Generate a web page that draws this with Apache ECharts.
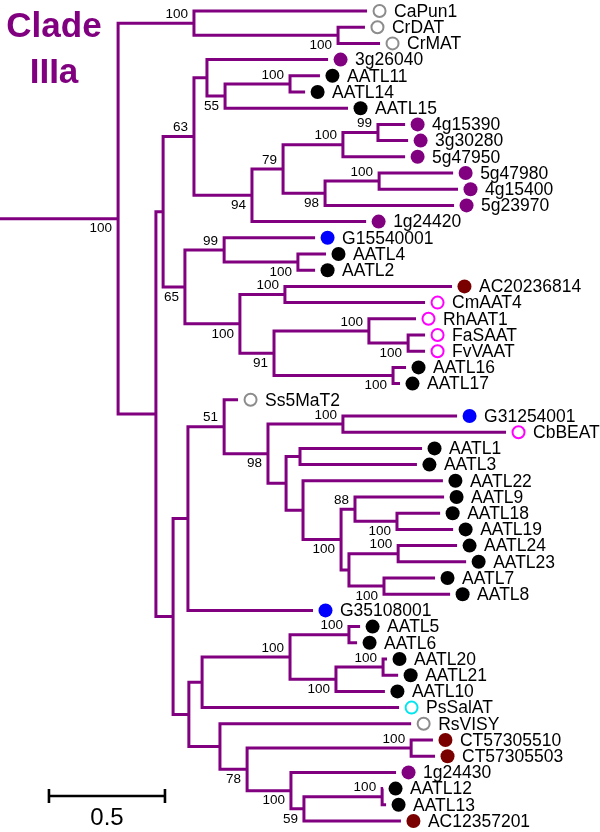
<!DOCTYPE html>
<html>
<head>
<meta charset="utf-8">
<script src="https://cdn.jsdelivr.net/npm/echarts@6/dist/echarts.min.js"></script>
<style>
html, body { margin: 0; padding: 0; background: #fff; }
#main { width: 600px; height: 832px; }
</style>
</head>
<body>
<div id="main"></div>
<script>
// leaves, top to bottom
const leafNames = ['CaPun1', 'CrDAT', 'CrMAT', '3g26040', 'AATL11', 'AATL14', 'AATL15', '4g15390', '3g30280', '5g47950',
  '5g47980', '4g15400', '5g23970', '1g24420', 'G15540001', 'AATL4', 'AATL2', 'AC20236814', 'CmAAT4', 'RhAAT1',
  'FaSAAT', 'FvVAAT', 'AATL16', 'AATL17', 'Ss5MaT2', 'G31254001', 'CbBEAT', 'AATL1', 'AATL3', 'AATL22',
  'AATL9', 'AATL18', 'AATL19', 'AATL24', 'AATL23', 'AATL7', 'AATL8', 'G35108001', 'AATL5', 'AATL6',
  'AATL20', 'AATL21', 'AATL10', 'PsSalAT', 'RsVISY', 'CT57305510', 'CT57305503', '1g24430', 'AATL12', 'AATL13',
  'AC12357201'];
// distance of each tip from the left end of the root branch
const leafTips = [1.582, 1.573, 1.638, 1.414, 1.379, 1.315, 1.500, 1.746, 1.759, 1.746,
  1.953, 1.974, 1.957, 1.578, 1.358, 1.405, 1.358, 1.948, 1.832, 1.793,
  1.832, 1.832, 1.750, 1.724, 1.026, 1.970, 2.181, 1.819, 1.797, 1.909,
  1.914, 1.897, 1.953, 1.970, 2.009, 1.875, 1.940, 1.349, 1.552, 1.539,
  1.668, 1.716, 1.659, 1.720, 1.772, 1.866, 1.875, 1.707, 1.651, 1.664,
  1.728];
const leafKinds = ['gray', 'gray', 'gray', 'purple', 'black', 'black', 'black', 'purple', 'purple', 'purple',
  'purple', 'purple', 'purple', 'purple', 'blue', 'black', 'black', 'red', 'magenta', 'magenta',
  'magenta', 'magenta', 'black', 'black', 'gray', 'blue', 'magenta', 'black', 'black', 'black',
  'black', 'black', 'black', 'black', 'black', 'black', 'black', 'blue', 'black', 'black',
  'black', 'black', 'black', 'cyan', 'gray', 'red', 'red', 'purple', 'black', 'black',
  'red'];
// clades: first leaf, last leaf, node depth, bootstrap (null = not shown)
const clades = [
  [0, 50, 0.509, 100], [0, 2, 0.836, 100], [1, 2, 1.457, 100],
  [3, 50, 0.672, null], [3, 23, 0.703, null], [3, 13, 0.836, 63],
  [3, 6, 0.892, null], [4, 6, 0.970, 55], [4, 5, 1.250, 100],
  [7, 13, 1.086, 94], [7, 12, 1.220, 79], [7, 9, 1.478, 100], [7, 8, 1.629, 99],
  [10, 12, 1.401, 98], [10, 11, 1.634, 100],
  [14, 23, 0.797, 65], [14, 16, 0.966, 99], [15, 16, 1.284, 100],
  [17, 23, 1.034, 100], [17, 18, 1.228, 100], [19, 23, 1.181, 91],
  [19, 21, 1.590, 100], [20, 21, 1.759, 100], [22, 23, 1.694, 100],
  [24, 50, 0.746, null], [24, 37, 0.810, null], [24, 36, 0.966, 51],
  [25, 36, 1.155, 98], [25, 26, 1.478, 100], [27, 36, 1.233, null],
  [27, 28, 1.293, null], [29, 36, 1.306, null], [30, 36, 1.470, 100],
  [30, 32, 1.530, 88], [31, 32, 1.711, 100], [33, 36, 1.504, null],
  [33, 34, 1.716, 100], [35, 36, 1.655, 100],
  [38, 50, 0.814, null], [38, 43, 0.871, null], [38, 42, 1.250, 100],
  [38, 39, 1.504, 100], [40, 42, 1.448, 100], [40, 41, 1.651, 100],
  [44, 50, 0.948, null], [45, 50, 1.065, 78], [45, 46, 1.772, 100],
  [47, 50, 1.254, 100], [48, 50, 1.310, 59], [48, 49, 1.647, 100]
];
const scaleBarLength = 0.5;

const PURPLE = '#800080';
const FONT = '"Liberation Sans", Arial, Helvetica, sans-serif';
const markerStyle = {
  gray: { fill: '#fff', stroke: '#8c8c8c', open: true },
  magenta: { fill: '#fff', stroke: '#ff00ff', open: true },
  cyan: { fill: '#fff', stroke: '#00e5ee', open: true },
  purple: { fill: '#800080' },
  black: { fill: '#000' },
  blue: { fill: '#0000ff' },
  red: { fill: '#7a0000' }
};

// build the tree from the leaf ranges
const nodes = [];
leafNames.forEach((n, i) => nodes.push({ from: i, to: i, x: leafTips[i], leaf: true, children: [] }));
clades.forEach(c => nodes.push({ from: c[0], to: c[1], x: c[2], support: c[3], leaf: false, children: [] }));
nodes.forEach(n => {
  let best = null;
  nodes.forEach(m => {
    if (m === n || m.leaf) return;
    if (m.from <= n.from && m.to >= n.to && (m.to - m.from) > (n.to - n.from)) {
      if (!best || (m.to - m.from) < (best.to - best.from)) best = m;
    }
  });
  n.parent = best;
  if (best) best.children.push(n);
});
nodes.forEach(n => n.children.sort((a, b) => a.from - b.from));
const root = nodes.find(n => !n.parent && !n.leaf);
function setY(n) {
  if (n.leaf) { n.y = n.from; return n.y; }
  n.children.forEach(setY);
  n.y = (n.children[0].y + n.children[n.children.length - 1].y) / 2;
  return n.y;
}
setY(root);

// each entry is a polyline in data coordinates
const branchLines = [[[0, root.y], [root.x, root.y]]];
nodes.filter(n => !n.leaf).forEach(n => {
  const c1 = n.children[0], c2 = n.children[n.children.length - 1];
  branchLines.push([[c1.x, c1.y], [n.x, c1.y], [n.x, c2.y], [c2.x, c2.y]]);
  n.children.slice(1, -1).forEach(c => branchLines.push([[n.x, c.y], [c.x, c.y]]));
});

const supportNodes = nodes.filter(n => !n.leaf && n.support != null);
const supportData = supportNodes.map(n => [n.x, n.y, n.support]);
const supportAbove = supportNodes.map(n => n.parent && n.parent.children[0] === n);

const chart = echarts.init(document.getElementById('main'));
chart.setOption({
  animation: false,
  grid: { left: 0, right: 0, top: 11, bottom: 11 },
  xAxis: { type: 'value', min: 0, max: 2.586, show: false },
  yAxis: { type: 'value', min: 0, max: 50, inverse: true, show: false },
  graphic: [
    { type: 'text', x: 54, y: 27, style: { text: 'Clade', fill: PURPLE, fontSize: 35, fontWeight: 'bold', fontFamily: FONT, align: 'center', verticalAlign: 'middle' } },
    { type: 'text', x: 54, y: 73, style: { text: 'IIIa', fill: PURPLE, fontSize: 35, fontWeight: 'bold', fontFamily: FONT, align: 'center', verticalAlign: 'middle' } }
  ],
  series: [
    {
      type: 'custom',
      silent: true,
      data: branchLines.map((b, i) => [i]),
      renderItem: function (params, api) {
        const pts = branchLines[params.dataIndex].map(p => api.coord(p));
        return {
          type: 'polyline',
          shape: { points: pts },
          style: { stroke: PURPLE, lineWidth: 3, fill: null, lineJoin: 'miter', lineCap: 'butt' }
        };
      }
    },
    {
      type: 'custom',
      silent: true,
      data: supportData,
      renderItem: function (params, api) {
        const p = api.coord([api.value(0), api.value(1)]);
        const above = supportAbove[params.dataIndex];
        return {
          type: 'text',
          style: {
            text: String(api.value(2)), x: p[0] - 6, y: p[1] + (above ? -9 : 10),
            fill: '#000', fontSize: 13.5, fontFamily: FONT, align: 'right', verticalAlign: 'middle'
          }
        };
      }
    },
    {
      type: 'custom',
      silent: true,
      data: leafTips.map((t, i) => [t, i]),
      renderItem: function (params, api) {
        const p = api.coord([api.value(0), api.value(1)]);
        const s = markerStyle[leafKinds[params.dataIndex]];
        return {
          type: 'group',
          children: [
            {
              type: 'circle',
              shape: { cx: p[0] + 12.5, cy: p[1], r: s.open ? 6 : 7 },
              style: s.open ? { fill: s.fill, stroke: s.stroke, lineWidth: 2 } : { fill: s.fill }
            },
            {
              type: 'text',
              style: {
                text: leafNames[params.dataIndex], x: p[0] + 27, y: p[1] + 1,
                fill: '#000', fontSize: 17.5, fontFamily: FONT, align: 'left', verticalAlign: 'middle'
              }
            }
          ]
        };
      }
    },
    {
      type: 'custom',
      silent: true,
      data: [[scaleBarLength]],
      renderItem: function (params, api) {
        const start = 0.211;
        const x0 = api.coord([start, 0])[0];
        const x1 = api.coord([start + api.value(0), 0])[0];
        const y = 796;
        const ls = { stroke: '#000', lineWidth: 2.6 };
        return {
          type: 'group',
          children: [
            { type: 'line', shape: { x1: x0, y1: y, x2: x1, y2: y }, style: ls },
            { type: 'line', shape: { x1: x0, y1: y - 7, x2: x0, y2: y + 7 }, style: ls },
            { type: 'line', shape: { x1: x1, y1: y - 7, x2: x1, y2: y + 7 }, style: ls },
            {
              type: 'text',
              style: {
                text: String(api.value(0)), x: (x0 + x1) / 2, y: 818,
                fill: '#000', fontSize: 24, fontFamily: FONT, align: 'center', verticalAlign: 'middle'
              }
            }
          ]
        };
      }
    }
  ]
});
</script>
</body>
</html>
